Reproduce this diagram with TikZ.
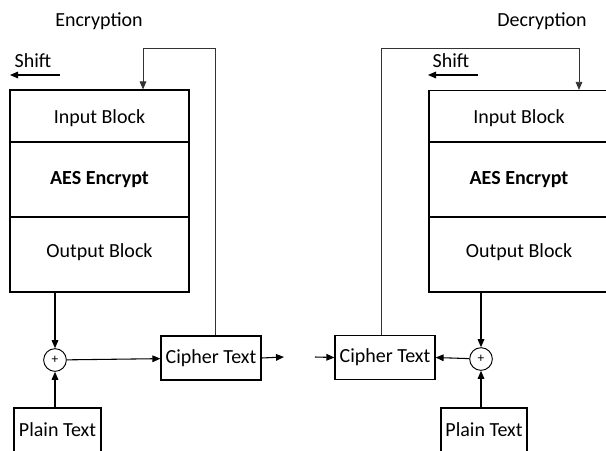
\documentclass[tikz,border=0pt]{standalone}
\usepackage{fontspec}
\setmainfont{Carlito}
\usetikzlibrary{arrows.meta}
\newcommand{\nudge}[2]{\raisebox{#1}[\height][\depth]{#2}}
\begin{document}
\begin{tikzpicture}[x=0.75pt,y=-0.75pt,
  txt/.style={font=\fontsize{15}{18}\selectfont, inner sep=0pt},
  cell/.style={draw, line width=0.9pt, font=\fontsize{15}{18}\selectfont, inner sep=0pt},
  smallbox/.style={draw, line width=0.9pt, font=\fontsize{15}{18}\selectfont, inner sep=0pt,
    minimum height=33pt},
  xor/.style={draw, circle, line width=0.7pt, minimum size=17pt, inner sep=0pt,
    font=\fontsize{10}{10}\selectfont},
  arr/.style={-{Triangle[length=6pt,width=5pt]}, line width=0.8pt},
  fb/.style={-{Triangle[length=6pt,width=5pt]}, line width=0.6pt, draw=black!80}]
\useasboundingbox (0,0) rectangle (606,450);
\clip (0,0) rectangle (606,450);

% ---- encryption side ----
\node[txt] (titleL) at (99,21.5) {Encryption};
\node[txt] (shiftL) at (33,61) {Shift};
\coordinate (shLa) at (60,75);
\coordinate (shLb) at (10,75);
\draw[arr] (shLa) -- (shLb);

\node[cell, minimum width=134.25pt, minimum height=39pt] (inL) at (99.5,116) {\nudge{-1.5pt}{Input Block}};
\node[cell, minimum width=134.25pt, minimum height=56.25pt] (aesL) at (99.5,179.5) {\bfseries AES Encrypt};
\node[cell, minimum width=134.25pt, minimum height=56.25pt] (outL) at (99.5,254.5) {\nudge{1.5pt}{Output Block}};

\node[xor] (xorL) at (55,360) {+};
\node[smallbox, minimum width=75pt] (cipherL) at (211,358) {Cipher Text};
\node[smallbox, minimum width=65.25pt] (plainL) at (57.5,430) {Plain Text};
\coordinate (outArrL) at (284,357);
\coordinate (fbL) at (143,48);

\draw[arr] (xorL |- outL.south) -- (xorL);
\draw[arr] (xorL |- plainL.north) -- (xorL);
\draw[arr] (xorL) -- (cipherL);
\draw[arr] (cipherL.east) -- (outArrL);
\draw[fb] ([xshift=3pt]cipherL.north) |- (fbL) -- (fbL |- inL.north);

% ---- decryption side ----
\node[txt] (titleR) at (542,21.5) {Decryption};
\node[txt] (shiftR) at (451,61) {Shift};
\coordinate (shRa) at (478,75);
\coordinate (shRb) at (428,75);
\draw[arr] (shRa) -- (shRb);

\node[cell, minimum width=135pt, minimum height=39pt] (inR) at (519,116.5) {\nudge{-1.5pt}{Input Block}};
\node[cell, minimum width=135pt, minimum height=56.25pt] (aesR) at (519,179.5) {\bfseries AES Encrypt};
\node[cell, minimum width=135pt, minimum height=56.25pt] (outR) at (519,254.5) {\nudge{1.5pt}{Output Block}};

\node[xor] (xorR) at (481,359) {+};
\node[smallbox, minimum width=75pt] (cipherR) at (385,357.5) {Cipher Text};
\node[smallbox, minimum width=64.5pt] (plainR) at (484,430) {Plain Text};
\coordinate (inArrR) at (315,357);
\coordinate (fbR) at (579,48);

\draw[arr] (xorR |- outR.south) -- (xorR);
\draw[arr] (xorR |- plainR.north) -- (xorR);
\draw[arr] (xorR) -- (cipherR.east);
\draw[arr] (inArrR) -- (cipherR.west);
\draw[fb] ([xshift=-3pt]cipherR.north) |- (fbR) -- (fbR |- inR.north);
\end{tikzpicture}
\end{document}
